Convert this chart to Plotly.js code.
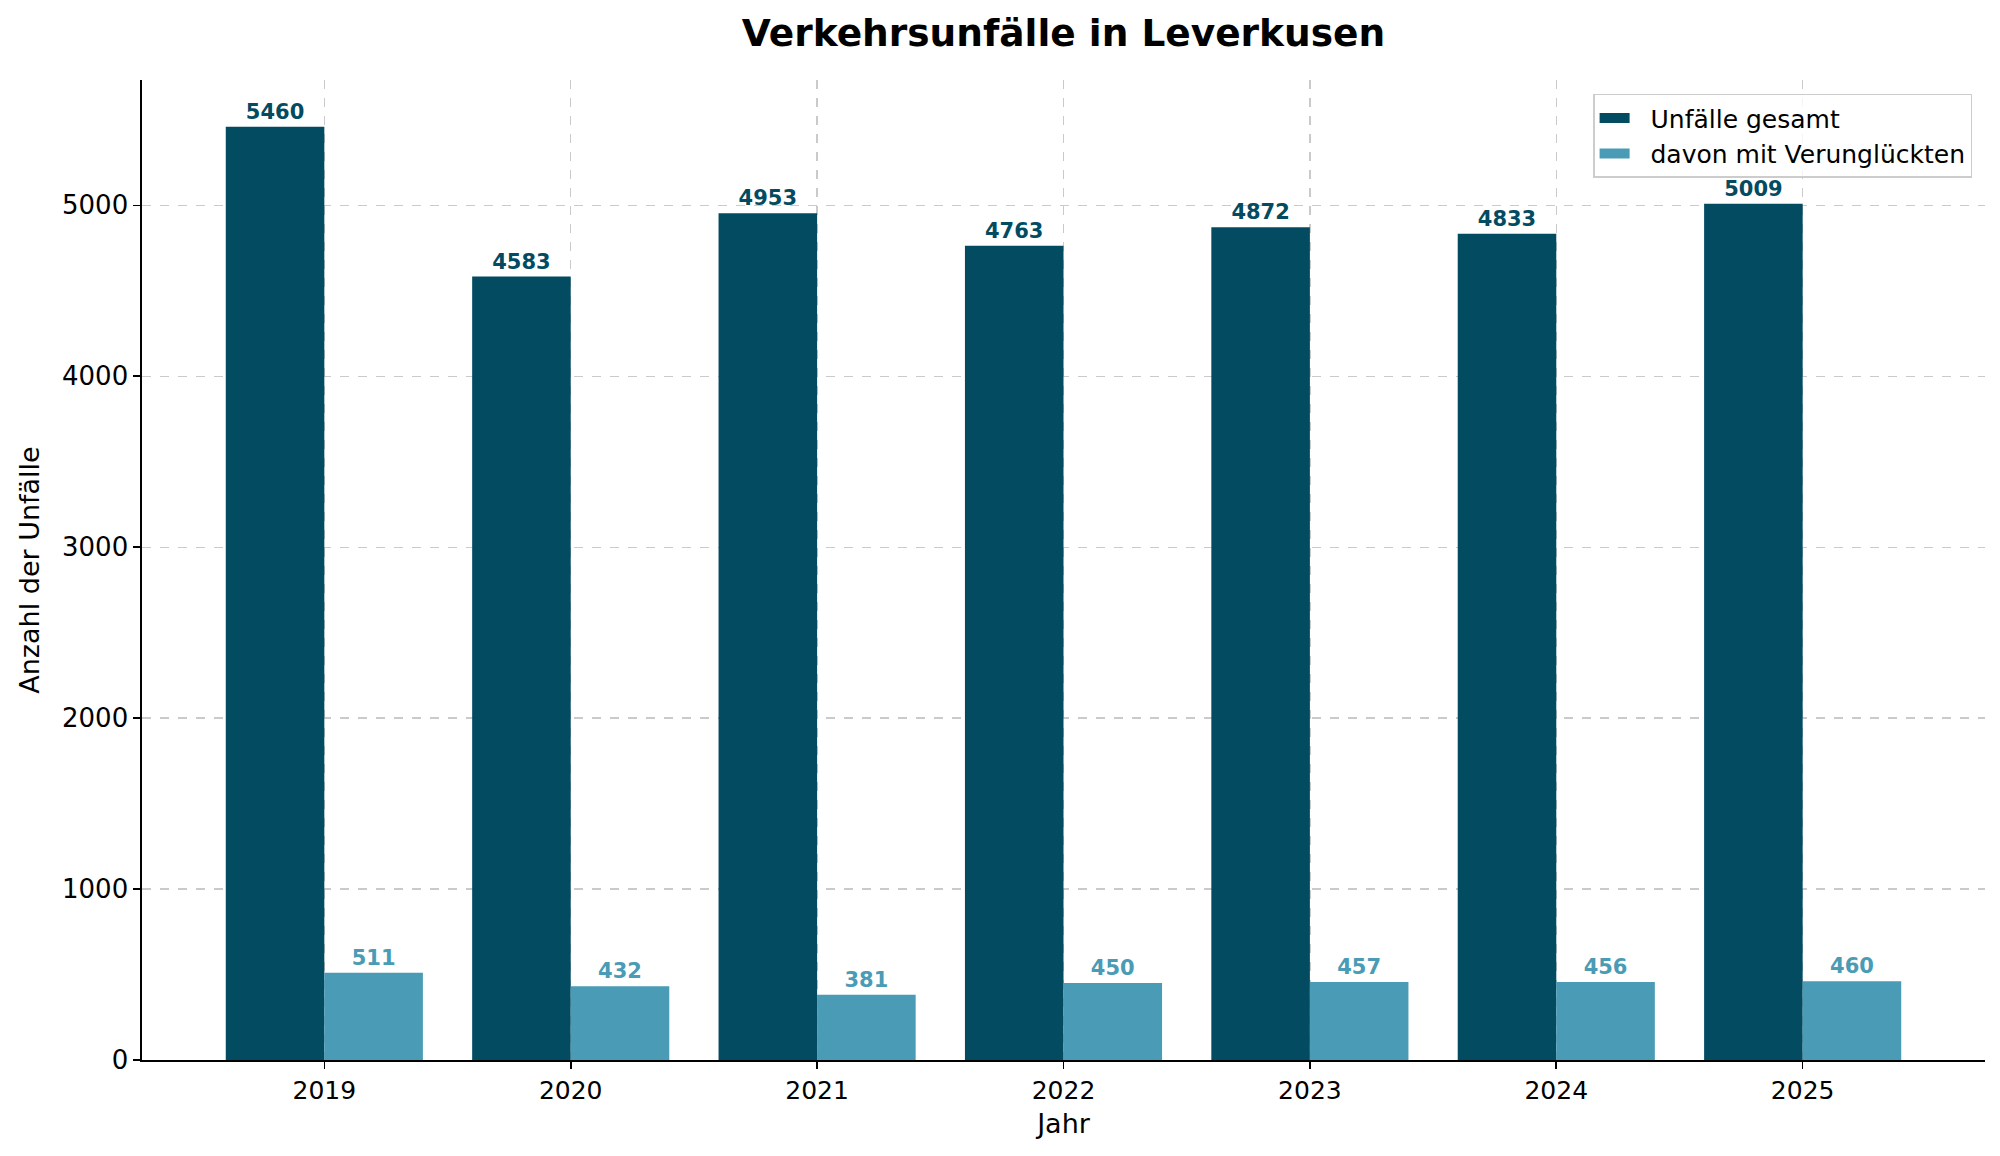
<!DOCTYPE html>
<html>
<head>
<meta charset="utf-8">
<script src="https://cdn.plot.ly/plotly-3.0.1.min.js"></script>
<style>
  html, body { margin: 0; padding: 0; background: #ffffff; }
  #plot { width: 2000px; height: 1156px; }
</style>
</head>
<body>
<div id="plot"></div>
<script>
// Daten
const jahre = ["2019", "2020", "2021", "2022", "2023", "2024", "2025"];
const unfaelle_gesamt = [5460, 4583, 4953, 4763, 4872, 4833, 5009];
const mit_verunglueckten = [511, 432, 381, 450, 457, 456, 460];
const y_ticks = [0, 1000, 2000, 3000, 4000, 5000];
const namen = ["Unfälle gesamt", "davon mit Verunglückten"];

const farbe_dunkel = "#034b61";
const farbe_hell = "#4a9bb5";
const schrift = "DejaVu Sans";

// Balken fuer beide Reihen (Legende kommt separat, damit die Symbole breite Rechtecke sind)
function balken(name, werte, farbe) {
    return {
        type: "bar",
        name: name,
        x: jahre,
        y: werte,
        showlegend: false,
        marker: {color: farbe, line: {width: 0}},
        text: werte.map(String),
        textposition: "outside",
        constraintext: "none",
        cliponaxis: false,
        textfont: {family: schrift, size: 21, color: farbe, weight: "bold"},
        hoverinfo: "x+y"
    };
}

// nur fuer die Legende: dicke Linie sieht aus wie ein Rechteck
function legenden_eintrag(name, farbe) {
    return {
        type: "scatter",
        mode: "lines",
        name: "\u00a0\u00a0" + name,
        x: [jahre[0]],
        y: [null],
        line: {color: farbe, width: 17},
        hoverinfo: "skip"
    };
}

const data = [
    balken(namen[0], unfaelle_gesamt, farbe_dunkel),
    balken(namen[1], mit_verunglueckten, farbe_hell),
    legenden_eintrag(namen[0], farbe_dunkel),
    legenden_eintrag(namen[1], farbe_hell)
];

const layout = {
    width: 2000,
    height: 1156,
    paper_bgcolor: "#ffffff",
    plot_bgcolor: "#ffffff",
    font: {family: schrift, size: 26, color: "#000000"},
    margin: {l: 142, r: 15, t: 80, b: 96},
    barmode: "group",
    bargap: 0.2,
    bargroupgap: 0,
    title: {
        text: "Verkehrsunfälle in Leverkusen",
        font: {family: schrift, size: 37.5, weight: "bold", color: "#000000"},
        xref: "paper",
        x: 0.5,
        xanchor: "center",
        y: 1 - 33 / 1156,
        yanchor: "middle"
    },
    xaxis: {
        type: "category",
        range: [-0.74, 6.74],
        showline: true,
        linecolor: "#000000",
        linewidth: 1.6,
        ticks: "outside",
        ticklen: 7,
        tickwidth: 1.6,
        tickcolor: "#000000",
        tickfont: {family: schrift, size: 25},
        showgrid: true,
        gridcolor: "#cacaca",
        griddash: "dash",
        gridwidth: 1.3,
        zeroline: false,
        title: {text: "Jahr", font: {family: schrift, size: 27}, standoff: 10}
    },
    yaxis: {
        range: [0, 5733],
        tickvals: y_ticks,
        ticktext: y_ticks.map(String),
        showline: true,
        linecolor: "#000000",
        linewidth: 1.6,
        ticks: "outside",
        ticklen: 7,
        tickwidth: 1.6,
        tickcolor: "#000000",
        tickfont: {family: schrift, size: 26},
        showgrid: true,
        gridcolor: "#cacaca",
        griddash: "dash",
        gridwidth: 1.3,
        zeroline: false,
        title: {text: "Anzahl der Unfälle", font: {family: schrift, size: 27}, standoff: 14}
    },
    legend: {
        x: 0.993,
        y: 0.986,
        xanchor: "right",
        yanchor: "top",
        bgcolor: "rgba(255,255,255,0.8)",
        bordercolor: "#cccccc",
        borderwidth: 1.5,
        font: {family: schrift, size: 25, color: "#000000"},
        tracegroupgap: 4
    },
    showlegend: true
};

Plotly.newPlot("plot", data, layout, {staticPlot: true, displayModeBar: false});
</script>
</body>
</html>
